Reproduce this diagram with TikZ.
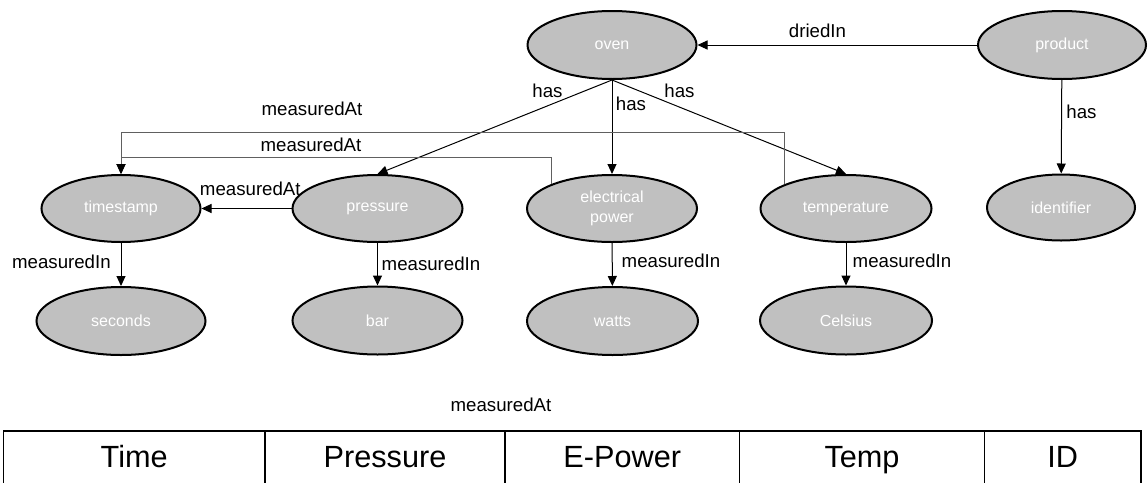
\documentclass[tikz,border=0pt]{standalone}
\usepackage{fontspec}
\setmainfont{Liberation Sans}
\usetikzlibrary{shapes.geometric,arrows.meta}

\tikzset{every picture/.style={line width=0.75pt}}
\tikzset{
	concept/.style={ellipse, draw=black, line width=1.5pt, fill={rgb, 255:red, 192; green, 192; blue, 192 }, text=white, inner sep=0pt, minimum width=127.5pt, minimum height=51pt, align=center, font=\fontsize{12pt}{15pt}\selectfont},
	rel/.style={inner sep=0pt, text height=0.716em, text depth=0pt, font=\fontsize{14pt}{17pt}\selectfont},
	conn/.style={-{Triangle[length=7.5pt,width=6.75pt]}, line width=0.75pt},
	route/.style={-{Triangle[length=7.5pt,width=6.75pt,color=black]}, draw={rgb, 255:red, 96; green, 96; blue, 96 }, line width=0.75pt},
	cellbox/.style={draw=black, line width=1.1pt},
	celltext/.style={inner sep=0pt, anchor=base, font=\fontsize{23pt}{27pt}\selectfont}
}

\begin{document}
\begin{tikzpicture}[x=0.75pt,y=0.75pt,yscale=-1,xscale=1]
	\useasboundingbox (0,0) rectangle (1148,482);

	%Shape: Ellipse [oven, product]
	\node[concept, minimum width=126.75pt] (oven) at (612,45) {oven};
	\node[concept, minimum width=126pt] (product) at (1062,45) {product};
	%Shape: Ellipse [measured quantities]
	\node[concept, minimum width=119.25pt, minimum height=50.25pt] (timestamp) at (121,208.5) {timestamp};
	\node[concept, minimum height=50.25pt] (pressure) at (377.5,208.5) {pressure};
	\node[concept, minimum height=50.25pt] (elec) at (612,208.5) {electrical\\power};
	\node[concept, minimum width=128.25pt, minimum height=50.25pt] (temp) at (846,208.5) {temperature};
	\node[concept, minimum width=111pt, minimum height=49.5pt] (identifier) at (1061,207.5) {identifier};
	%Shape: Ellipse [units]
	\node[concept, minimum width=126.75pt] (seconds) at (121,321) {seconds};
	\node[concept] (bar) at (377.5,320.5) {bar};
	\node[concept, minimum width=128.25pt] (watts) at (612.5,321) {watts};
	\node[concept, minimum width=129pt] (celsius) at (846,320.5) {Celsius};

	%Straight Lines [relations]
	\draw[conn] (product) -- (oven);
	\draw[conn] (oven.south) -- (pressure.north);
	\draw[conn] (oven) -- (elec);
	\draw[conn] (oven.south) -- (temp.north);
	\draw[conn] (product) -- (identifier);
	\draw[conn] (pressure) -- (timestamp);
	\draw[route] (temp.north west) -- ++(0,-52) -| (timestamp.north);
	\draw[route] (elec.north west) -- ++(0,-27) -| (timestamp.north);
	\draw[conn] (timestamp) -- (seconds);
	\draw[conn] (pressure) -- (bar);
	\draw[conn] (elec) -- (watts);
	\draw[conn] (temp) -- (celsius);

	% Text Node
	\node[rel] (dried) at (817.5,33) {driedIn};
	\node[rel] (hasP) at (547.5,93) {has};
	\node[rel] (hasE) at (631,106) {has};
	\node[rel] (hasT) at (679.5,93) {has};
	\node[rel] (hasI) at (1081.5,114) {has};
	\node[rel] (atOuter) at (312,111) {measuredAt};
	\node[rel] (atInner) at (311,146.7) {measuredAt};
	\node[rel] (atPres) at (250.3,190.5) {measuredAt};
	\node[rel] (inSec) at (61.4,263.3) {measuredIn};
	\node[rel] (inBar) at (431,265.7) {measuredIn};
	\node[rel] (inWatt) at (671,263) {measuredIn};
	\node[rel] (inCel) at (902,263) {measuredIn};
	\node[rel] (atTable) at (501,407) {measuredAt};

	%Shape: Table
	\foreach \name/\xa/\xb/\txt in {time/3.5/265/Time, pres/265/505/Pressure, epow/505/739.5/E-Power, tmp/739.5/984.5/Temp, id/984.5/1141/ID} {
		\draw[cellbox] (\xa,431) rectangle (\xb,484);
		\node[celltext] (col-\name) at ({(\xa+\xb)/2},467.3) {\txt};
	}

\end{tikzpicture}
\end{document}
